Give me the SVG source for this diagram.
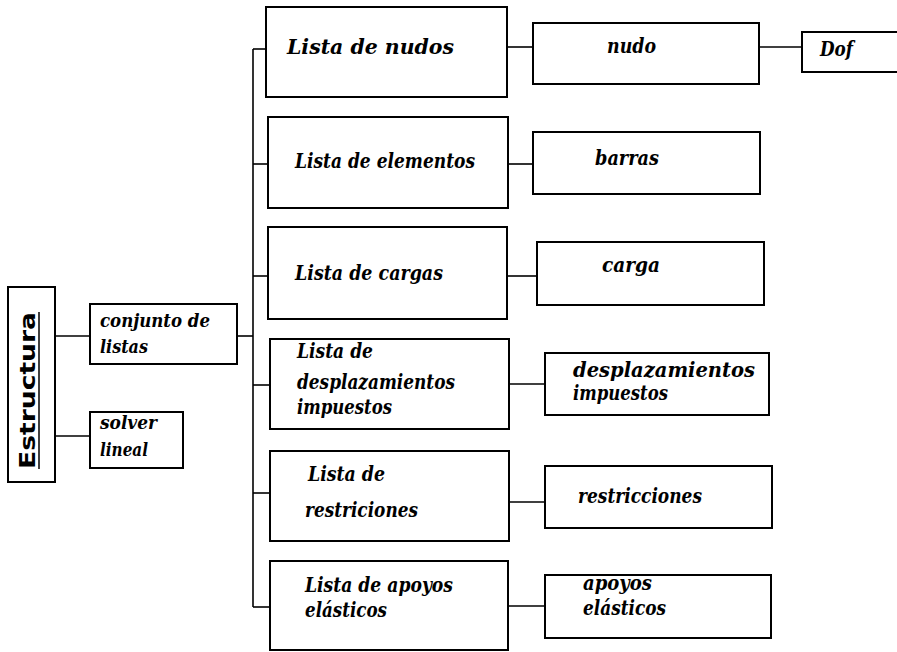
<svg xmlns="http://www.w3.org/2000/svg" width="897" height="652" viewBox="0 0 897 652">
<style>
.box{fill:#fff;stroke:#000;stroke-width:2}
.con line{stroke:#000;stroke-width:1.6}
text.t{font-family:'DejaVu Serif','Liberation Serif',serif;font-weight:700;font-style:italic;font-size:21px;fill:#000}
text.s{font-size:19px}
.est{font-family:'DejaVu Sans',Verdana,sans-serif;font-weight:bold;font-size:21px;fill:#000}
</style>
<rect width="897" height="652" fill="#fff"/>
<g id="connectors" class="con">
<line x1="55" y1="336" x2="90" y2="336"/>
<line x1="55" y1="436" x2="90" y2="436"/>
<line x1="237" y1="336" x2="253" y2="336"/>
<line x1="253" y1="49" x2="253" y2="607"/>
<line x1="253" y1="49" x2="266" y2="49"/>
<line x1="253" y1="164" x2="268" y2="164"/>
<line x1="253" y1="276" x2="268" y2="276"/>
<line x1="253" y1="385" x2="270" y2="385"/>
<line x1="253" y1="493" x2="270" y2="493"/>
<line x1="253" y1="607" x2="270" y2="607"/>
<line x1="507" y1="47" x2="533" y2="47"/>
<line x1="759" y1="47" x2="802" y2="47"/>
<line x1="508" y1="164" x2="533" y2="164"/>
<line x1="507" y1="276" x2="537" y2="276"/>
<line x1="509" y1="384" x2="545" y2="384"/>
<line x1="509" y1="502" x2="545" y2="502"/>
<line x1="508" y1="606" x2="545" y2="606"/>
</g>
<g id="estructura">
<rect class="box" x="8" y="287" width="47" height="195"/>
<text class="est" transform="translate(35,469) rotate(-90)" textLength="157" lengthAdjust="spacingAndGlyphs">Estructura</text>
<line x1="39" y1="312" x2="39" y2="469" stroke="#000" stroke-width="1.5"/>
</g>
<g id="conjunto">
<rect class="box" x="90" y="304" width="147" height="60"/>
<text class="t s" x="100" y="327" textLength="110" lengthAdjust="spacingAndGlyphs">conjunto de</text>
<text class="t s" x="100" y="353" textLength="48" lengthAdjust="spacingAndGlyphs">listas</text>
</g>
<g id="solver">
<rect class="box" x="90" y="412" width="93" height="56"/>
<text class="t s" x="100" y="429" textLength="57" lengthAdjust="spacingAndGlyphs">solver</text>
<text class="t s" x="100" y="456" textLength="48" lengthAdjust="spacingAndGlyphs">lineal</text>
</g>
<g id="lista-nudos">
<rect class="box" x="266" y="7" width="241" height="90"/>
<text class="t" x="287" y="54" textLength="167" lengthAdjust="spacingAndGlyphs">Lista de nudos</text>
</g>
<g id="lista-elementos">
<rect class="box" x="268" y="117" width="240" height="91"/>
<text class="t" x="295" y="168" textLength="180" lengthAdjust="spacingAndGlyphs">Lista de elementos</text>
</g>
<g id="lista-cargas">
<rect class="box" x="268" y="227" width="239" height="92"/>
<text class="t" x="295" y="280" textLength="148" lengthAdjust="spacingAndGlyphs">Lista de cargas</text>
</g>
<g id="lista-desplazamientos">
<rect class="box" x="270" y="339" width="239" height="90"/>
<text class="t" x="297" y="358" textLength="76" lengthAdjust="spacingAndGlyphs">Lista de</text>
<text class="t" x="297" y="389" textLength="158" lengthAdjust="spacingAndGlyphs">desplazamientos</text>
<text class="t" x="297" y="414" textLength="95" lengthAdjust="spacingAndGlyphs">impuestos</text>
</g>
<g id="lista-restriciones">
<rect class="box" x="270" y="451" width="239" height="90"/>
<text class="t" x="308" y="481" textLength="77" lengthAdjust="spacingAndGlyphs">Lista de</text>
<text class="t" x="305" y="517" textLength="113" lengthAdjust="spacingAndGlyphs">restriciones</text>
</g>
<g id="lista-apoyos">
<rect class="box" x="270" y="561" width="238" height="89"/>
<text class="t" x="305" y="592" textLength="148" lengthAdjust="spacingAndGlyphs">Lista de apoyos</text>
<text class="t" x="305" y="617" textLength="82" lengthAdjust="spacingAndGlyphs">elásticos</text>
</g>
<g id="nudo">
<rect class="box" x="533" y="23" width="226" height="61"/>
<text class="t" x="607" y="53" textLength="49" lengthAdjust="spacingAndGlyphs">nudo</text>
</g>
<g id="dof">
<rect class="box" x="802" y="32" width="110" height="40"/>
<text class="t" x="820" y="56" textLength="33" lengthAdjust="spacingAndGlyphs">Dof</text>
</g>
<g id="barras">
<rect class="box" x="533" y="132" width="227" height="62"/>
<text class="t" x="595" y="165" textLength="64" lengthAdjust="spacingAndGlyphs">barras</text>
</g>
<g id="carga">
<rect class="box" x="537" y="242" width="227" height="63"/>
<text class="t" x="602" y="272" textLength="58" lengthAdjust="spacingAndGlyphs">carga</text>
</g>
<g id="desplazamientos">
<rect class="box" x="545" y="353" width="224" height="62"/>
<text class="t" x="573" y="377" textLength="182" lengthAdjust="spacingAndGlyphs">desplazamientos</text>
<text class="t" x="573" y="400" textLength="95" lengthAdjust="spacingAndGlyphs">impuestos</text>
</g>
<g id="restricciones">
<rect class="box" x="545" y="466" width="227" height="62"/>
<text class="t" x="578" y="503" textLength="124" lengthAdjust="spacingAndGlyphs">restricciones</text>
</g>
<g id="apoyos">
<rect class="box" x="545" y="575" width="226" height="63"/>
<text class="t" x="583" y="590" textLength="69" lengthAdjust="spacingAndGlyphs">apoyos</text>
<text class="t" x="583" y="615" textLength="83" lengthAdjust="spacingAndGlyphs">elásticos</text>
</g>
</svg>
